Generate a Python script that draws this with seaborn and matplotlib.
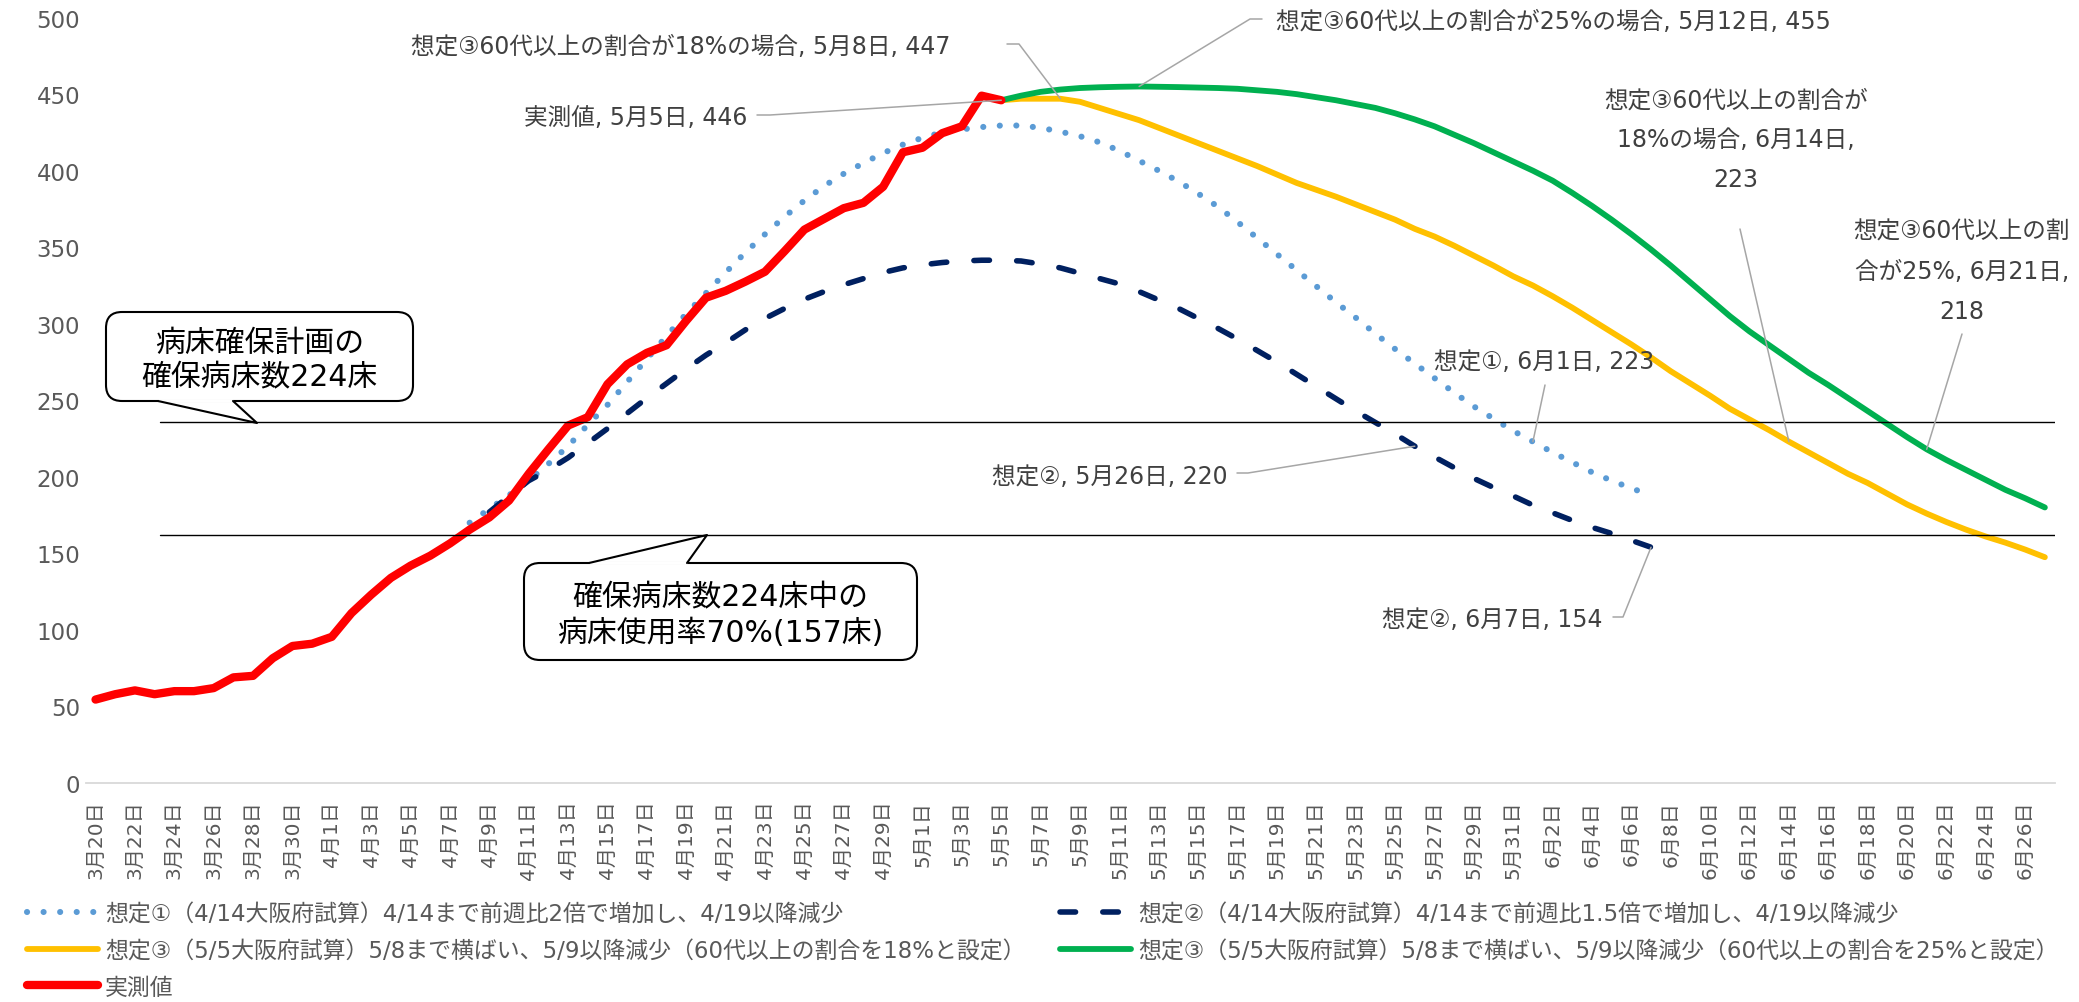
import numpy as np
import pandas as pd
import matplotlib
matplotlib.use("Agg")
import matplotlib.pyplot as plt
from matplotlib.lines import Line2D
from matplotlib.patches import FancyBboxPatch
from matplotlib.transforms import IdentityTransform
import seaborn as sns

W, H = 2079, 1003

# daily categories on the x axis
days = [f"{d.month}月{d.day}日" for d in pd.date_range("2021-03-20", "2021-06-27")]

# 実測値 (3/20 - 5/5)
actual_start = "3月20日"
actual = [54.5, 58, 60.5, 58, 60, 60, 62, 69, 70, 81.5,
          89.5, 91, 95.5, 111, 123, 134, 142, 148.5, 156.5, 165.5,
          173.5, 184.5, 202, 218, 233.5, 239, 260.5, 273.5, 281, 286,
          302, 317, 321.5, 327.5, 334, 347.5, 361.5, 368.5, 375.5, 379,
          389.5, 412, 415, 424.5, 429, 449, 446]

# 想定① (4/8 - 6/7)
s1_start = "4月8日"
s1 = [170, 179, 188, 197.5, 208.5, 220, 234, 247, 262, 277,
      292, 306.5, 320, 333.5, 346.5, 358.5, 370, 380.5, 390, 398,
      405, 411.5, 417, 421.5, 425, 427, 428.5, 429.5, 429.5, 428,
      425.5, 422.5, 418.5, 413, 406.5, 400, 393, 385, 376.5, 366.5,
      356, 345.5, 335, 324.5, 314, 304, 293.5, 283.5, 274, 264.5,
      255, 246, 238, 230, 223, 216, 209.5, 203, 197.5, 192.5, 188]
# 想定② (4/9 - 6/7)
s2_start = "4月9日"
s2 = [177, 187.5, 197.5, 204.5, 212.5, 222, 231.5, 241.5, 251.5,
      261, 270.5, 279.5, 287.5, 296, 303.5, 310, 316, 321, 325.5,
      329.5, 333.5, 336.5, 338.5, 340, 341, 341.5, 341.5, 341, 339,
      336.5, 333, 329.5, 326, 321, 315.5, 310, 303.5, 297, 290,
      282.5, 275, 267, 259, 251, 243, 235.5, 228, 220, 213,
      206, 199, 193, 187.5, 181.5, 176.5, 171.5, 167, 163, 158.5, 154]

# 想定③ 18% / 25% (5/5 - 6/27)
s3_start = "5月5日"
s3_18 = [446, 447, 447, 447, 445, 441, 437, 433, 428, 423,
         418, 413, 408, 403, 397.5, 392, 387.5, 383, 378, 373,
         368, 362, 357, 351, 344.5, 338, 331, 325, 318, 310.5,
         302.5, 294.5, 286.5, 278, 269, 261, 253, 244.5, 237.5, 230.5,
         223, 216, 209, 202, 196, 189, 182, 176, 170.5, 165.5,
         161, 157, 152.5, 147.5]
s3_25 = [446, 449, 451.5, 453, 454, 454.5, 454.8, 455, 454.8, 454.6,
         454.3, 454, 453.5, 452.5, 451.5, 450, 448, 446, 443.5, 441,
         437.5, 433.5, 429, 423.5, 418, 412, 406, 400, 393.5, 385.5,
         377, 368, 358.5, 348.5, 338, 327, 316, 305, 295, 286,
         277, 268, 260, 251.5, 243, 234.5, 226, 218, 211, 204.5,
         198, 191.5, 186, 180]

hline_levels = [235.5, 162]

labels = [
    "想定①（4/14大阪府試算）4/14まで前週比2倍で増加し、4/19以降減少",
    "想定②（4/14大阪府試算）4/14まで前週比1.5倍で増加し、4/19以降減少",
    "想定③（5/5大阪府試算）5/8まで横ばい、5/9以降減少（60代以上の割合を18%と設定）",
    "想定③（5/5大阪府試算）5/8まで横ばい、5/9以降減少（60代以上の割合を25%と設定）",
    "実測値",
]

sns.set_style("white")
plt.rcParams["font.family"] = ["DejaVu Sans", "Noto Sans CJK JP"]

fig = plt.figure(figsize=(W / 100, H / 100), dpi=100)
ax = fig.add_axes([85.7 / W, 1 - 784 / H, (2054.7 - 85.7) / W, (784 - 18.6) / H])


def xs(start, vals):
    i0 = days.index(start)
    return np.arange(i0, i0 + len(vals))


common = dict(ax=ax, legend=False, errorbar=None)
sns.lineplot(x=xs(s1_start, s1), y=s1, color="#5B9BD5", linewidth=4.4,
             linestyle=(0, (0.01, 2.7)), dash_capstyle="round", label=labels[0], **common)
sns.lineplot(x=xs(s2_start, s2), y=s2, color="#002060", linewidth=4.0,
             linestyle=(0, (2.8, 4.9)), dash_capstyle="round", label=labels[1], **common)
sns.lineplot(x=xs(s3_start, s3_18), y=s3_18, color="#FFC000", linewidth=4.2,
             solid_capstyle="round", label=labels[2], **common)
sns.lineplot(x=xs(s3_start, s3_25), y=s3_25, color="#00B050", linewidth=4.2,
             solid_capstyle="round", label=labels[3], **common)
sns.lineplot(x=xs(actual_start, actual), y=actual, color="#FF0000", linewidth=6.0,
             solid_capstyle="round", label=labels[4], **common)
handles = list(ax.get_lines())

for lv in hline_levels:
    ax.axhline(lv, xmin=0.0377, xmax=1, color="black", lw=1.0, zorder=5)

ax.set_xlim(-0.5, len(days) - 0.5)
ax.set_ylim(0, 500)
ax.set_xticks(range(0, len(days), 2))
ax.set_xticklabels(days[::2], rotation=90, fontsize=14.5, color="#595959")
ax.set_yticks(range(0, 501, 50))
ax.tick_params(axis="y", labelsize=16.5, labelcolor="#595959", length=0, pad=4)
ax.tick_params(axis="x", length=0, pad=12)
ax.set_xlabel("")
ax.set_ylabel("")
for side in ["left", "top", "right"]:
    ax.spines[side].set_visible(False)
ax.spines["bottom"].set_color("#D9D9D9")
ax.spines["bottom"].set_linewidth(1.3)


def to_fig(px, py):
    return px / W, 1 - py / H


def on_series(start, vals, day):
    i = days.index(day)
    v = vals[i - days.index(start)]
    return fig.transFigure.inverted().transform(ax.transData.transform((i, v)))


def leader(pts, end):
    fx = [to_fig(*p)[0] for p in pts] + [end[0]]
    fy = [to_fig(*p)[1] for p in pts] + [end[1]]
    fig.add_artist(Line2D(fx, fy, transform=fig.transFigure, color="#A6A6A6", lw=1.1, zorder=6))


def label(px, py, s, ha="center"):
    fig.text(*to_fig(px, py), s, ha=ha, va="center", fontsize=17, color="#404040", zorder=7)


# data labels
label(950, 47, "想定③60代以上の割合が18%の場合, 5月8日, 447", ha="right")
leader([(1007, 45), (1019, 45)], on_series(s3_start, s3_18, "5月8日"))

label(1276, 22, "想定③60代以上の割合が25%の場合, 5月12日, 455", ha="left")
leader([(1262, 20), (1250, 20)], on_series(s3_start, s3_25, "5月12日"))

label(747, 118, "実測値, 5月5日, 446", ha="right")
leader([(757, 116), (770, 116)], on_series(actual_start, actual, "5月5日"))

for i, s in enumerate(["想定③60代以上の割合が", "18%の場合, 6月14日,", "223"]):
    label(1736, 101 + 39.5 * i, s)
leader([(1740, 230)], on_series(s3_start, s3_18, "6月14日"))

for i, s in enumerate(["想定③60代以上の割", "合が25%, 6月21日,", "218"]):
    label(1962, 232 + 40 * i, s)
leader([(1962, 335)], on_series(s3_start, s3_25, "6月21日"))

label(1544, 362, "想定①, 6月1日, 223")
leader([(1545, 386)], on_series(s1_start, s1, "6月1日"))

label(1228, 477, "想定②, 5月26日, 220", ha="right")
leader([(1237, 474), (1248, 474)], on_series(s2_start, s2, "5月26日"))

label(1603, 620, "想定②, 6月7日, 154", ha="right")
leader([(1613, 618), (1623, 618)], on_series(s2_start, s2, "6月7日"))


# callout boxes (pixel coordinates, top-left origin)
def callout(x0, y0, x1, y1, base1, base2, tip, lines, ys):
    box = FancyBboxPatch((x0, H - y1), x1 - x0, y1 - y0,
                         boxstyle="round,pad=0,rounding_size=16",
                         transform=IdentityTransform(), facecolor="white",
                         edgecolor="black", lw=1.5, zorder=8)
    fig.add_artist(box)
    by = y1 if tip[1] > y1 else y0
    fig.add_artist(Line2D([base1 + 1.5, base2 - 1.5], [H - by, H - by], transform=IdentityTransform(),
                          color="white", lw=2.6, zorder=9))
    fig.add_artist(Line2D([base1, tip[0], base2], [H - by, H - tip[1], H - by],
                          transform=IdentityTransform(), color="black", lw=1.5, zorder=9))
    cx = (x0 + x1) / 2
    for s, ty in zip(lines, ys):
        fig.text(*to_fig(cx, ty), s, ha="center", va="center", fontsize=21.5, color="black", zorder=10)


callout(106, 313, 413, 402, 158, 233, (257, 424), ["病床確保計画の", "確保病床数224床"], [343, 378])
callout(524, 564, 917, 661, 589, 687, (707, 536), ["確保病床数224床中の", "病床使用率70%(157床)"], [598, 633])

# legend rows
rows = [(0, 27, 915), (2, 27, 952), (4, 27, 988), (1, 1060, 915), (3, 1060, 952)]
for k, px, py in rows:
    fig.legend([handles[k]], [labels[k]], loc="center left", bbox_to_anchor=to_fig(px, py),
               frameon=False, fontsize=16.5, labelcolor="#595959", handlelength=3.1,
               handletextpad=0.3, borderpad=0, borderaxespad=0)

fig.savefig("out.png", dpi=100)
